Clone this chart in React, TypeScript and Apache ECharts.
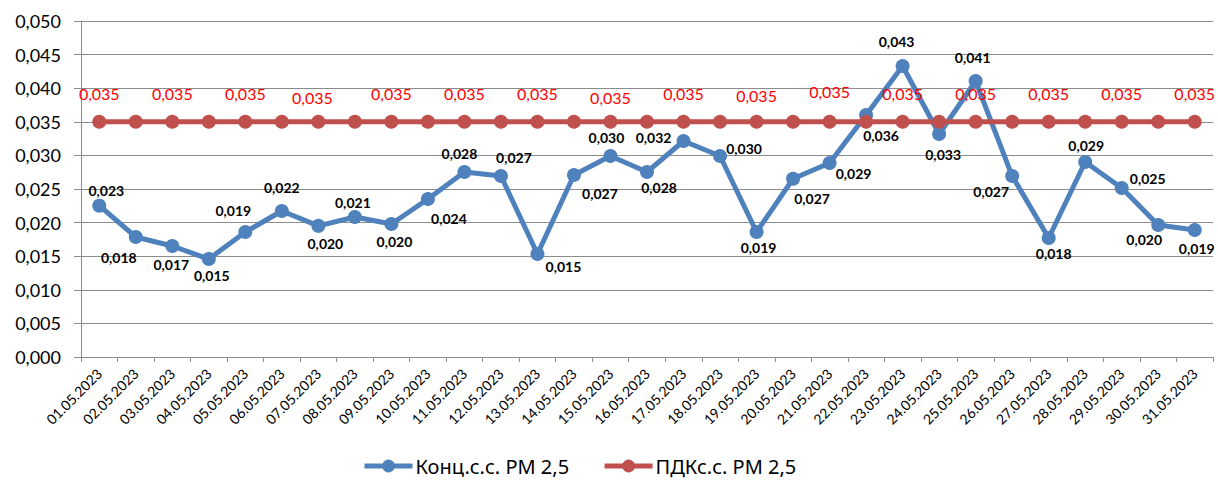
import React, { useEffect, useRef } from 'react';
import * as echarts from 'echarts';

const categories = [
  '01.05.2023', '02.05.2023', '03.05.2023', '04.05.2023', '05.05.2023', '06.05.2023',
  '07.05.2023', '08.05.2023', '09.05.2023', '10.05.2023', '11.05.2023', '12.05.2023',
  '13.05.2023', '14.05.2023', '15.05.2023', '16.05.2023', '17.05.2023', '18.05.2023',
  '19.05.2023', '20.05.2023', '21.05.2023', '22.05.2023', '23.05.2023', '24.05.2023',
  '25.05.2023', '26.05.2023', '27.05.2023', '28.05.2023', '29.05.2023', '30.05.2023',
  '31.05.2023',
];

const concValues = [
  0.02252, 0.01786, 0.01652, 0.01458, 0.0186, 0.02173, 0.01952, 0.02083, 0.01979, 0.02351,
  0.02753, 0.02693, 0.01533, 0.02708, 0.02991, 0.02753, 0.03214, 0.02991, 0.0186, 0.02652,
  0.02887, 0.03601, 0.0433, 0.03318, 0.04107, 0.02693, 0.01771, 0.02902, 0.02515, 0.01964,
  0.0189,
];

const limitValues = [
  0.035, 0.035, 0.035, 0.035, 0.035, 0.035, 0.035, 0.035, 0.035, 0.035, 0.035,
  0.035, 0.035, 0.035, 0.035, 0.035, 0.035, 0.035, 0.035, 0.035, 0.035, 0.035,
  0.035, 0.035, 0.035, 0.035, 0.035, 0.035, 0.035, 0.035, 0.035,
];

const seriesNames = ['Конц.с.с. РМ 2,5', 'ПДКс.с. РМ 2,5'];

// label placement (style only)
const concLabelOffsets = [
  [7, -15], [-17, 21], [-1, 19], [3, 16], [-12, -22], [0, -23], [7, 18], [-2, -15],
  [3, 17], [21, 19], [-5, -18], [13, -19], [26, 13], [26, 18], [-4, -19], [12, 16],
  [-30, -4], [24, -8], [2, 15], [19, 20], [24, 11], [15, 20], [-6, -25], [4, 20],
  [-3, -24], [-21, 15], [5, 16], [1, -16], [26, -9], [-14, 14], [2, 19],
];

const limitLabelOffsetY: Record<number, number> = { 6: -24, 14: -24, 18: -26, 20: -30 };

const fmt = (v: number) => v.toFixed(3).replace('.', ',');

export default function App() {
  const ref = useRef<HTMLDivElement>(null);

  useEffect(() => {
    if (!ref.current) return;
    const chart = echarts.init(ref.current, null, { renderer: 'svg' });
    const blue = '#4F81BD';
    const red = '#C0504D';
    const gridColor = '#8C8C8C';

    chart.setOption({
      animation: false,
      backgroundColor: '#ffffff',
      grid: { left: 81, right: 5, top: 21, bottom: 129, outerBoundsMode: 'none' },
      legend: {
        bottom: 5,
        left: 357,
        itemWidth: 48,
        itemHeight: 16,
        itemGap: 33,
        lineStyle: { width: 5 },
        textStyle: { fontFamily: 'Noto Sans', fontSize: 20, color: '#000', padding: [0, 0, 0, -2] },
        data: seriesNames,
      },
      xAxis: {
        type: 'category',
        data: categories,
        boundaryGap: true,
        axisLine: { lineStyle: { color: gridColor, width: 1 } },
        axisTick: { show: true, length: 5, alignWithLabel: false, lineStyle: { color: gridColor } },
        axisLabel: {
          interval: 0,
          rotate: 45,
          margin: 14,
          fontFamily: 'Lato',
          fontSize: 14,
          color: '#000',
        },
        splitLine: { show: false },
      },
      yAxis: {
        type: 'value',
        min: 0,
        max: 0.05,
        interval: 0.005,
        axisLine: { show: true, lineStyle: { color: gridColor, width: 1 } },
        axisTick: { show: true, length: 7, lineStyle: { color: gridColor } },
        axisLabel: {
          margin: 20,
          fontFamily: 'Lato',
          fontSize: 18,
          color: '#000',
          formatter: (v: number) => fmt(v),
        },
        splitLine: { show: true, lineStyle: { color: gridColor, width: 1 } },
      },
      series: [
        {
          name: seriesNames[0],
          type: 'line',
          data: concValues.map((v, i) => ({
            value: v,
            label: { offset: concLabelOffsets[i] },
          })),
          symbol: 'circle',
          symbolSize: 14,
          lineStyle: { color: blue, width: 5 },
          itemStyle: { color: blue },
          z: 2,
          label: {
            show: true,
            position: 'inside',
            fontFamily: 'Lato',
            fontWeight: 'bold',
            fontSize: 14,
            color: '#000',
            formatter: (p: any) => fmt(p.value),
          },
        },
        {
          name: seriesNames[1],
          type: 'line',
          data: limitValues.map((v, i) => ({
            value: v,
            label: {
              show: i % 2 === 0,
              offset: [i === 6 ? -6 : 0, limitLabelOffsetY[i] ?? -28],
            },
          })),
          symbol: 'circle',
          symbolSize: 14,
          lineStyle: { color: red, width: 5 },
          itemStyle: { color: red },
          z: 3,
          label: {
            show: true,
            position: 'inside',
            fontFamily: 'Lato',
            fontSize: 16,
            color: '#FF0000',
            formatter: (p: any) => fmt(p.value),
          },
        },
      ],
    });

    return () => chart.dispose();
  }, []);

  return (
    <div
      ref={ref}
      style={{ position: 'fixed', left: 0, top: 0, width: 1218, height: 486, background: '#fff' }}
    />
  );
}
